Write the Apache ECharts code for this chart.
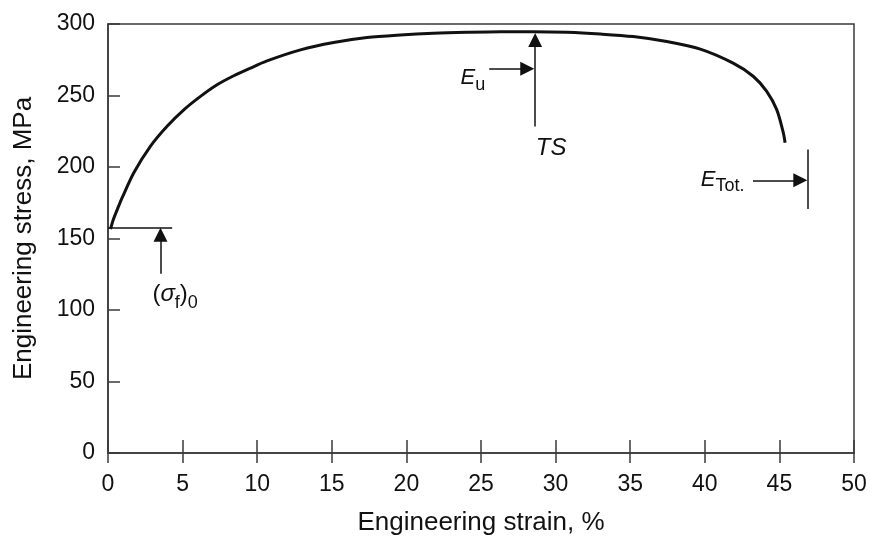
<!DOCTYPE html>
<html>
<head>
<meta charset="utf-8">
<script src="https://cdn.jsdelivr.net/npm/echarts@6/dist/echarts.min.js"></script>
<style>
html,body{margin:0;padding:0;background:#fff;}
#chart{width:873px;height:541px;}
</style>
</head>
<body>
<div id="chart"></div>
<script>
// Curve data
const strain = [0.17, 0.37, 0.72, 0.95, 1.73, 2.85, 3.96, 5.08, 6.2, 7.31, 8.43, 9.55, 10.66, 12.9, 15.12, 17.36, 19.6, 21.8, 24.06, 26.3, 28.5, 30.76, 33.0, 35.2, 37.45, 39.7, 41.9, 43.26, 44.15, 44.82, 45.26, 45.38];
const stress = [156.6, 163.6, 172.8, 178.5, 196, 214.6, 228.5, 240, 249.4, 257.5, 263.8, 269.2, 274.2, 281.9, 287, 290.5, 292.3, 293.5, 294.2, 294.6, 294.6, 294.2, 293, 291.2, 287.7, 282.4, 272.6, 263.3, 252.9, 240.1, 224, 217];

// Axis settings
const xRange = [0, 50, 5];
const yRange = [0, 300, 50];
const xTitle = 'Engineering strain, %';
const yTitle = 'Engineering stress, MPa';

// Annotation arrows: [x1, y1, x2, y2] (data coordinates, arrowhead at end)
const arrowSegs = [
  [3.52, 125.3, 3.52, 152.6],   // (σf)0
  [25.55, 268.7, 28.1, 268.7],  // Eu
  [28.63, 228.3, 28.63, 288.8], // TS
  [43.23, 190.7, 46.4, 190.7]   // ETot
];
// Plain annotation segments
const plainSegs = [
  [0, 157.3, 4.3, 157.3],       // yield level line
  [46.9, 170.6, 46.9, 212.3]    // fracture marker
];
// Annotation labels: [x, y, text]
const labelPts = [
  [24.45, 260.5, '{e|E}{s|u}'],
  [29.7, 213.0, '{t|TS}'],
  [41.2, 189.5, '{e2|E}{s2|Tot.}'],
  [4.5, 109.0, '{p|(}{g|σ}{f|f}{p|)}{f|0}']
];

const FONT = "'Liberation Sans', Arial, Helvetica, sans-serif";
const TXT = '#111';

const chart = echarts.init(document.getElementById('chart'));
const curve = strain.map((x, i) => [x, stress[i]]);

chart.setOption({
  animation: false,
  backgroundColor: '#fff',
  grid: { left: 108, right: 19, top: 24, bottom: 86, show: true, borderColor: '#3a3a3a', borderWidth: 1.5, backgroundColor: 'transparent' },
  xAxis: [{
    type: 'value', min: xRange[0], max: xRange[1], interval: xRange[2],
    name: xTitle, nameLocation: 'middle', nameGap: 57,
    nameTextStyle: { fontFamily: FONT, fontSize: 26, color: TXT },
    axisLine: { show: true, lineStyle: { color: '#3a3a3a', width: 1.5 } },
    axisTick: { show: true, inside: true, length: 13, lineStyle: { color: '#3a3a3a', width: 1.5 } },
    axisLabel: { fontFamily: FONT, fontSize: 23, color: TXT, margin: 20 },
    splitLine: { show: false }
  }, {
    type: 'value', min: xRange[0], max: xRange[1], interval: xRange[2], position: 'bottom',
    axisLine: { show: false },
    axisTick: { show: true, inside: false, length: 10, lineStyle: { color: '#3a3a3a', width: 1.5 } },
    axisLabel: { show: false }, splitLine: { show: false }
  }],
  yAxis: {
    type: 'value', min: yRange[0], max: yRange[1], interval: yRange[2],
    name: yTitle, nameLocation: 'middle', nameGap: 71,
    nameTextStyle: { fontFamily: FONT, fontSize: 26, color: TXT },
    axisLine: { show: true, lineStyle: { color: '#3a3a3a', width: 1.5 } },
    axisTick: { show: true, inside: true, length: 12, lineStyle: { color: '#3a3a3a', width: 1.5 } },
    axisLabel: { fontFamily: FONT, fontSize: 23, color: TXT, margin: 13 },
    splitLine: { show: false }
  },
  series: [
    {
      type: 'line', data: curve, showSymbol: false, smooth: 0.3,
      lineStyle: { color: '#111', width: 3 }, silent: true
    },
    {
      type: 'lines', coordinateSystem: 'cartesian2d', silent: true,
      symbol: ['none', 'triangle'], symbolSize: 14,
      lineStyle: { color: '#111', width: 1.5, opacity: 1, curveness: 0 },
      data: arrowSegs.map(s => ({ coords: [[s[0], s[1]], [s[2], s[3]]] }))
    },
    {
      type: 'lines', coordinateSystem: 'cartesian2d', silent: true,
      symbol: ['none', 'none'],
      lineStyle: { color: '#111', width: 1.5, opacity: 1, curveness: 0 },
      data: plainSegs.map(s => ({ coords: [[s[0], s[1]], [s[2], s[3]]] }))
    },
    {
      type: 'scatter', silent: true, symbolSize: 1,
      itemStyle: { color: 'rgba(0,0,0,0)', opacity: 1 },
      label: {
        show: true, position: 'inside', color: TXT, fontFamily: FONT, opacity: 1,
        formatter: p => p.data[2],
        rich: {
          e: { fontFamily: FONT, fontSize: 22, fontStyle: 'italic', color: TXT, lineHeight: 28, verticalAlign: 'top' },
          s: { fontFamily: FONT, fontSize: 18, color: TXT, verticalAlign: 'bottom' },
          e2: { fontFamily: FONT, fontSize: 22, fontStyle: 'italic', color: TXT, lineHeight: 27, verticalAlign: 'top' },
          s2: { fontFamily: FONT, fontSize: 18, color: TXT, verticalAlign: 'bottom' },
          t: { fontFamily: FONT, fontSize: 24, fontStyle: 'italic', color: TXT },
          p: { fontFamily: FONT, fontSize: 24, color: TXT, lineHeight: 29, verticalAlign: 'top' },
          g: { fontFamily: FONT, fontSize: 24, fontStyle: 'italic', color: TXT, lineHeight: 29, verticalAlign: 'top' },
          f: { fontFamily: FONT, fontSize: 18, color: TXT, verticalAlign: 'bottom' }
        }
      },
      data: labelPts
    }
  ]
});
</script>
</body>
</html>
